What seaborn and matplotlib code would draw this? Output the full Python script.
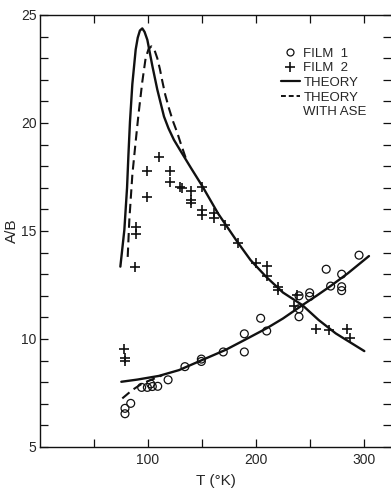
import matplotlib
matplotlib.use("Agg")
import matplotlib.pyplot as plt
from matplotlib.lines import Line2D
from matplotlib.ticker import MultipleLocator, FixedLocator
import seaborn as sns

# ---------------- data ----------------
film1_T = [78.7, 78.7, 84.0, 94.1, 99.4, 102.5, 104.0, 109.0, 118.6, 134.2,
           149.4, 149.4, 169.7, 189.2, 189.2, 204.3, 209.9, 239.8, 239.8,
           239.8, 249.7, 249.7, 265.0, 269.1, 279.3, 279.3, 279.3, 295.4]
film1_v = [6.79, 6.54, 7.02, 7.76, 7.76, 7.92, 7.80, 7.81, 8.11, 8.72,
           9.07, 8.96, 9.40, 10.24, 9.40, 10.96, 10.37, 12.00, 11.40,
           11.03, 12.14, 11.97, 13.23, 12.45, 13.00, 12.42, 12.24, 13.88]

film2_T = [77.5, 78.7, 78.7, 88.0, 88.9, 88.9, 99.4, 99.4, 110.2, 120.0,
           120.0, 129.5, 131.5, 140.1, 140.1, 140.1, 150.3, 150.3, 150.3,
           161.1, 161.1, 171.3, 183.6, 199.7, 210.5, 210.5, 220.0, 220.0,
           235.2, 237.6, 255.2, 267.6, 284.6, 286.8]
film2_v = [9.56, 9.12, 9.00, 13.35, 15.17, 14.86, 16.59, 17.80, 18.44, 17.80,
           17.28, 17.02, 17.00, 16.87, 16.44, 16.28, 17.05, 15.97, 15.74,
           15.85, 15.59, 15.30, 14.46, 13.53, 13.38, 12.92, 12.42, 12.27,
           11.52, 12.05, 10.48, 10.42, 10.45, 10.06]

theory2_T = [74.4, 78.1, 80.6, 81.9, 83.3, 85.5, 88.6, 90.5, 92.5, 94.7, 96.8,
             99.4, 101.5, 104.0, 108.6, 114.8, 119.0, 124.0, 130.0, 140.0, 150.0,
             165.0, 182.7, 195.0, 209.0, 225.0, 242.9, 258.0, 273.8, 300.3]
theory2_v = [13.35, 15.05, 17.00, 18.55, 20.05, 21.80, 23.40, 23.95, 24.28, 24.38, 24.22,
             23.85, 23.30, 22.65, 21.55, 20.30, 19.75, 19.22, 18.72, 17.90, 17.10,
             15.80, 14.50, 13.65, 12.90, 12.15, 11.57, 10.88, 10.26, 9.44]

ase2_T = [81.2, 82.7, 85.5, 88.3, 91.2, 94.7, 97.8, 100.5, 103.1, 106.0,
          108.6, 111.0, 113.2, 116.0, 119.4, 123.0, 127.1, 130.0, 133.3, 136.0]
ase2_v = [13.80, 15.50, 17.60, 19.00, 20.40, 21.90, 23.00, 23.42, 23.55, 23.38,
          23.00, 22.50, 21.95, 21.30, 20.68, 20.10, 19.55, 19.10, 18.62, 18.22]

theory1_T = [75.3, 90.0, 110.0, 128.7, 150.3, 172.0, 190.0, 210.0, 225.0,
             243.0, 256.0, 269.0, 285.0, 304.6]
theory1_v = [8.02, 8.12, 8.29, 8.56, 9.03, 9.50, 9.97, 10.50, 10.95,
             11.57, 12.00, 12.45, 13.04, 13.84]

ase1_T = [76.2, 85.5, 95.0, 105.0, 113.0]
ase1_v = [7.25, 7.64, 7.95, 8.15, 8.32]

x_major = [100, 200, 300]
x_minor = [50, 150, 250]
y_major = [5, 10, 15, 20, 25]
legend_labels = ["FILM  1", "FILM  2", "THEORY", "THEORY", "WITH ASE"]
x_label = "T (\u00b0K)"
y_label = "A/B"

# ---------------- style ----------------
sns.set_style("ticks")
plt.rcParams["font.family"] = ["Liberation Sans", "DejaVu Sans"]
plt.rcParams["font.size"] = 10

fig = plt.figure(figsize=(3.91, 4.91), dpi=100)
ax = fig.add_axes([40 / 391, 44 / 491, 351 / 391, 432 / 491])

ink = "#111111"
dash = (0, (4.5, 2.5))

sns.lineplot(x=theory2_T, y=theory2_v, sort=False, estimator=None, color=ink,
             linewidth=1.7, ax=ax)
sns.lineplot(x=ase2_T, y=ase2_v, sort=False, estimator=None, color=ink,
             linewidth=1.5, linestyle=dash, ax=ax)
sns.lineplot(x=theory1_T, y=theory1_v, sort=False, estimator=None, color=ink,
             linewidth=1.7, ax=ax)
sns.lineplot(x=ase1_T, y=ase1_v, sort=False, estimator=None, color=ink,
             linewidth=1.5, linestyle=dash, ax=ax)

sns.scatterplot(x=film1_T, y=film1_v, marker="o", s=32, facecolors="none",
                edgecolor=ink, linewidth=0.9, ax=ax, zorder=3)
sns.scatterplot(x=film2_T, y=film2_v, marker="+", s=44, color=ink,
                linewidth=1.2, ax=ax, zorder=3)

ax.set_xlim(0, 325)
ax.set_ylim(5, 25)
ax.xaxis.set_major_locator(FixedLocator(x_major))
ax.xaxis.set_minor_locator(FixedLocator(x_minor))
ax.yaxis.set_major_locator(FixedLocator(y_major))
ax.yaxis.set_minor_locator(MultipleLocator(1))

ax.tick_params(which="both", direction="in", top=True, right=True,
               length=6, width=0.9, color=ink)
ax.tick_params(axis="x", which="major", pad=4, labelsize=10)
ax.tick_params(axis="y", which="major", pad=2.5, labelsize=10)

for side in ["left", "top", "bottom"]:
    ax.spines[side].set_color(ink)
    ax.spines[side].set_linewidth(1.0)
ax.spines["right"].set_visible(False)

ax.set_xlabel(x_label, fontsize=11, labelpad=5)
ax.set_ylabel(y_label, fontsize=11, labelpad=1.5)

handles = [
    Line2D([], [], marker="o", ls="none", mfc="none", mec=ink, ms=5, mew=0.9),
    Line2D([], [], marker="+", ls="none", color=ink, ms=7, mew=1.2),
    Line2D([], [], color=ink, lw=1.6),
    Line2D([], [], color=ink, lw=1.4, ls=(0, (2.5, 1.5))),
    Line2D([], [], color="none"),
]
ax.legend(handles, legend_labels, loc="upper right", bbox_to_anchor=(0.95, 0.94),
          frameon=False, borderpad=0, handlelength=1.4, handletextpad=0.3,
          labelspacing=0.18, fontsize=9.5)

fig.savefig("out.png", dpi=100)
